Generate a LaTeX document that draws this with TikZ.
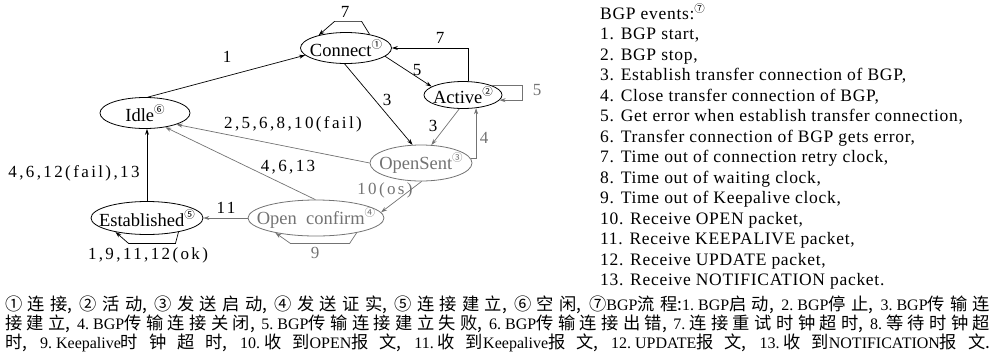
\documentclass[tikz,border=0pt]{standalone}
\usepackage{fontspec}
\setmainfont{Liberation Serif}
\newfontfamily\zhfont[Scale=1.08]{Noto Sans CJK SC}
\newfontfamily\circfont{Noto Sans CJK SC}
\newfontfamily\lblfont[LetterSpace=14]{Liberation Serif}
\newfontfamily\legfont[LetterSpace=4]{Liberation Serif}
\usetikzlibrary{shapes.geometric,arrows.meta,calc}
\newcommand{\circnum}[1]{\raisebox{0.42em}{\fontsize{10.5}{10.5}\selectfont\circfont #1}}
\newcommand{\zh}[1]{{\zhfont #1}}
\newcommand{\cma}{{\zhfont ,}\hskip 2pt plus 1pt\relax}
\newcommand{\nsp}{\hskip 4pt\relax}
\definecolor{fade}{gray}{0.45}
\begin{document}
\begin{tikzpicture}[x=1pt,y=-1pt,
  state/.style={ellipse,draw,line width=0.8pt,inner xsep=-20pt,inner ysep=-10pt,
    font=\fontsize{18.5}{18.5}\selectfont},
  gstate/.style={state,draw=fade,text=fade},
  edge/.style={line width=0.7pt,-{Stealth[length=6pt,width=4pt]}},
  gedge/.style={edge,draw=fade},
  lbl/.style={font=\lblfont\fontsize{17}{17}\selectfont,inner sep=0pt},
  glbl/.style={lbl,text=fade},
]
\useasboundingbox (0,0) rectangle (997,360);

% states
\node[state,minimum width=91pt,minimum height=31pt] (connect) at (346,48) {Connect\circnum{①}};
\node[state,minimum width=78pt,minimum height=27pt] (active) at (463,95) {Active\circnum{②}};
\node[state,minimum width=90pt,minimum height=31pt] (idle) at (145,113) {Idle\circnum{⑥}};
\node[gstate,minimum width=102pt,minimum height=36pt] (opensent) at (421,163) {OpenSent\circnum{③}};
\node[gstate,minimum width=136pt,minimum height=36pt] (openconf) at (316,218) {Open\ \ confirm\circnum{④}};
\node[state,minimum width=112pt,minimum height=33pt] (established) at (147,218) {Established\circnum{⑤}};

% helper coordinates for self loops
\coordinate (a5) at ($(active.east)+(20,0)$);
\coordinate (eb) at ($(established.south)+(0,8.5)$);
\coordinate (ob) at ($(openconf.south)+(0,7)$);

% connectors
\draw[edge] (idle.80) -- (connect.190);
\draw[edge] (connect.30) -- ++(-8,-13) -- ++(-27,0) -- (connect.155);
\draw[edge] (active.70) |- (connect.east);
\draw[edge] (connect.-12) -- (active.165);
\draw[gedge] (active.18) -- (active.18 -| a5) -- (active.-8 -| a5) -- (active.-8);
\draw[edge] (connect.-95) -- (opensent.115);
\draw[gedge] (active.-105) -- (opensent.60);
\draw[gedge] (opensent.5) -| (active.-45);
\draw[gedge] (opensent.west) -- (idle.-20);
\draw[gedge] (openconf.92) -- (idle.-35);
\draw[edge] (established.north) -- (established.north |- idle.south);
\draw[gedge] (opensent.-88) -- (openconf.5);
\draw[gedge] (openconf.west) -- (established.east);
\draw[edge] (established.-24) -- ($(established.-24 |- eb)+(-3,0)$) -- ($(established.-156 |- eb)+(13,0)$) -- (established.-156);
\draw[gedge] (openconf.-20) -- ($(openconf.-20 |- ob)+(-7,0)$) -- ($(openconf.-160 |- ob)+(15,0)$) -- (openconf.-160);

% connector labels
\node[lbl] (l7a) at (345,12) {7};
\node[lbl] (l1) at (227,57) {1};
\node[lbl] (l7b) at (440,38) {7};
\node[lbl] (l5a) at (417,70) {5};
\node[glbl] (l5b) at (537,90) {5};
\node[lbl] (l3a) at (387,100) {3};
\node[lbl] (l3b) at (433,126) {3};
\node[glbl] (l4) at (484,138) {4};
\node[lbl] (lfail) at (293,124) {2,5,6,8,10(fail)};
\node[lbl] (l4613) at (288,167) {4,6,13};
\node[lbl] (lest) at (74,173) {4,6,12(fail),13};
\node[glbl] (los) at (385,190) {10(os)};
\node[lbl] (l11) at (226,208) {11};
\node[lbl] (lok) at (148,255) {1,9,11,12(ok)};
\node[glbl] (l9) at (315,253) {9};

% legend
\node[anchor=north west,align=left,inner sep=0pt,font=\legfont\fontsize{17.5}{20.5}\selectfont] (legend) at (600,3)
{BGP events:\circnum{⑦}\\
1. BGP start,\\
2. BGP stop,\\
3. Establish transfer connection of BGP,\\
4. Close transfer connection of BGP,\\
5. Get error when establish transfer connection,\\
6. Transfer connection of BGP gets error,\\
7. Time out of connection retry clock,\\
8. Time out of waiting clock,\\
9. Time out of Keepalive clock,\\
10. Receive OPEN packet,\\
11. Receive KEEPALIVE packet,\\
12. Receive UPDATE packet,\\
13. Receive NOTIFICATION packet.};

% caption
\node[anchor=north west,inner sep=0pt,font=\fontsize{16}{19}\selectfont] (caption) at (5,296)
{\parbox[t]{985pt}{\XeTeXlinebreaklocale "zh"\XeTeXlinebreakskip=0pt plus 1pt\parfillskip=0pt\relax
\zh{①连接}\cma\zh{②活动}\cma\zh{③发送启动}\cma\zh{④发送证实}\cma\zh{⑤连接建立}\cma\zh{⑥空闲}\cma\zh{⑦}BGP\zh{流程:}1.\nsp BGP\zh{启动}\cma 2.\nsp BGP\zh{停止}\cma 3.\nsp BGP\zh{传输连}\linebreak
\zh{接建立}\cma 4.\nsp BGP\zh{传输连接关闭}\cma 5.\nsp BGP\zh{传输连接建立失败}\cma 6.\nsp BGP\zh{传输连接出错}\cma 7.\nsp\zh{连接重试时钟超时}\cma 8.\nsp\zh{等待时钟超}\linebreak
\zh{时}\cma 9.\nsp Keepalive\zh{时钟超时}\cma 10.\nsp\zh{收到}OPEN\zh{报文}\cma 11.\nsp\zh{收到}Keepalive\zh{报文}\cma 12.\nsp UPDATE\zh{报文}\cma 13.\nsp\zh{收到}NOTIFICATION\zh{报文.}\par}};
\end{tikzpicture}
\end{document}
